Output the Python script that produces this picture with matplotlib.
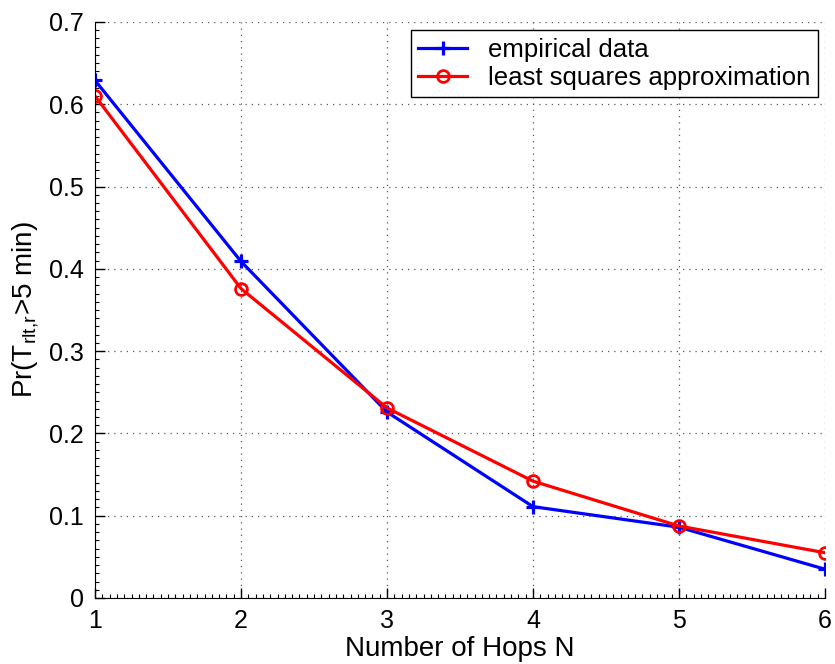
import numpy as np
import matplotlib
matplotlib.use("Agg")
import matplotlib.pyplot as plt
from matplotlib.ticker import AutoMinorLocator, MultipleLocator, FuncFormatter

#--------------------- DATA -------------------#
hops = [1, 2, 3, 4, 5, 6]
empirical = [0.629, 0.409, 0.226, 0.111, 0.086, 0.035]
least_sq = [0.610, 0.376, 0.231, 0.142, 0.0875, 0.055]

plt.rcParams['font.family'] = ['Liberation Sans', 'DejaVu Sans']
plt.rcParams['mathtext.default'] = 'regular'

#--------------------- FIGURE -------------------#
fig = plt.figure(figsize=(8.35, 6.64), dpi=100)
ax = fig.add_axes([0.1138, 0.0994, 0.8742, 0.8675])

ax.plot(hops, empirical, color='blue', lw=2.3, marker='+', ms=10, mew=2.3,
        label='empirical data')
ax.plot(hops, least_sq, color='red', lw=2.3, marker='o', ms=8.5, mew=2,
        mfc='none', label='least squares approximation')

ax.set_xlim(1, 6)
ax.set_ylim(0, 0.7)
ax.xaxis.set_major_locator(MultipleLocator(1))
ax.yaxis.set_major_locator(MultipleLocator(0.1))
ax.xaxis.set_minor_locator(AutoMinorLocator(20))
ax.yaxis.set_minor_locator(AutoMinorLocator(10))
ax.yaxis.set_major_formatter(FuncFormatter(lambda v, p: '%g' % round(v, 2)))
ax.tick_params(which='major', direction='in', length=7, width=1, labelsize=18, pad=8)
ax.tick_params(which='minor', direction='in', length=3, width=0.8)

# MATLAB style: no box, dotted grid
ax.spines['top'].set_visible(False)
ax.spines['right'].set_visible(False)
ax.grid(True, which='major', linestyle=(0, (1, 4)), color='0.35', lw=0.9)

ax.set_xlabel('Number of Hops N', fontsize=20, labelpad=2)
ax.set_ylabel('Pr(T$_{rlt{,}r}$>5 min)', fontsize=20, labelpad=6)

leg = ax.legend(loc='upper right', fontsize=18.5, frameon=True, fancybox=False,
                edgecolor='black', framealpha=1, borderpad=0.3, handlelength=1.9,
                labelspacing=0.15, borderaxespad=0, bbox_to_anchor=(0.99, 0.986))
leg.get_frame().set_linewidth(1)

fig.savefig('out.png', dpi=100)
